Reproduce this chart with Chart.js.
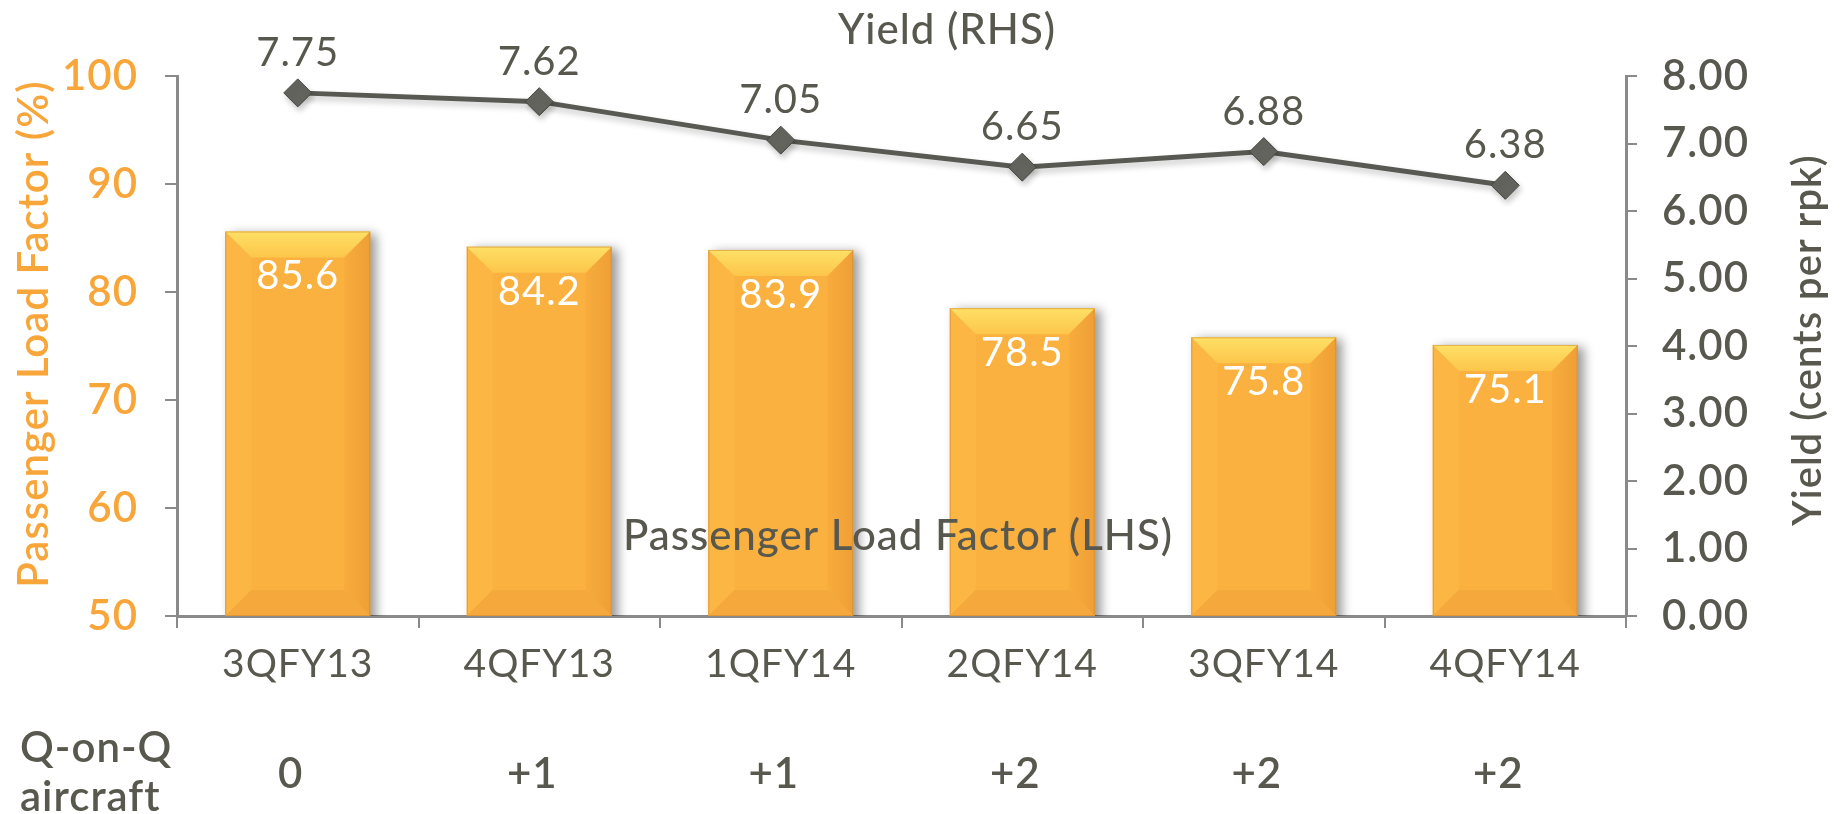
<!DOCTYPE html>
<html>
<head>
<meta charset="utf-8">
<script src="https://cdn.jsdelivr.net/npm/chart.js@4.4.1/dist/chart.umd.min.js"></script>
<style>
  html, body { margin: 0; padding: 0; background: #ffffff; }
  #wrap { width: 1841px; height: 814px; position: relative; }
</style>
</head>
<body>
<div id="wrap"><canvas id="c" width="1841" height="814"></canvas></div>
<script>
// ---------- DATA ----------
const categories = ['3QFY13', '4QFY13', '1QFY14', '2QFY14', '3QFY14', '4QFY14'];
const loadFactor = [85.6, 84.2, 83.9, 78.5, 75.8, 75.1];          // Passenger Load Factor (%) - LHS
const yieldCents = [7.75, 7.62, 7.05, 6.65, 6.88, 6.38];          // Yield (cents per rpk) - RHS
const aircraftChange = ['0', '+1', '+1', '+2', '+2', '+2'];       // Q-on-Q aircraft
const leftTickRange = [50, 100, 10];   // min, max, step
const rightTickRange = [0, 8, 1];      // min, max, step

// ---------- STYLE ----------
const ORANGE_TEXT = '#F8A53A';
const GRAY_TEXT = '#58584F';
const AXIS_GRAY = '#8A8A8A';
const FONT = 'Lato, "Open Sans", sans-serif';
const FS = 42;

Chart.defaults.font.family = FONT;

function bevelRect(ctx, l, t, r, b, bv) {
  const w = r - l, h = b - t;
  bv = Math.min(bv, w / 2, h / 2);
  // left facet
  ctx.fillStyle = '#FCB643';
  ctx.beginPath();
  ctx.moveTo(l, t); ctx.lineTo(l + bv, t + bv); ctx.lineTo(l + bv, b - bv); ctx.lineTo(l, b); ctx.closePath();
  ctx.fill();
  // right facet
  let g = ctx.createLinearGradient(r - bv, 0, r, 0);
  g.addColorStop(0, '#F8AC3C');
  g.addColorStop(1, '#EE9F36');
  ctx.fillStyle = g;
  ctx.beginPath();
  ctx.moveTo(r, t); ctx.lineTo(r, b); ctx.lineTo(r - bv, b - bv); ctx.lineTo(r - bv, t + bv); ctx.closePath();
  ctx.fill();
  // bottom facet
  ctx.fillStyle = '#F5A83B';
  ctx.beginPath();
  ctx.moveTo(l, b); ctx.lineTo(r, b); ctx.lineTo(r - bv, b - bv); ctx.lineTo(l + bv, b - bv); ctx.closePath();
  ctx.fill();
  // top facet
  g = ctx.createLinearGradient(0, t, 0, t + bv);
  g.addColorStop(0, '#FEE066');
  g.addColorStop(1, '#FCC64A');
  ctx.fillStyle = g;
  ctx.beginPath();
  ctx.moveTo(l, t); ctx.lineTo(r, t); ctx.lineTo(r - bv, t + bv); ctx.lineTo(l + bv, t + bv); ctx.closePath();
  ctx.fill();
  // outline
  ctx.strokeStyle = 'rgba(205,135,45,0.55)';
  ctx.lineWidth = 1;
  ctx.strokeRect(l + 0.5, t + 0.5, w - 1, h - 1);
}

const effectsPlugin = {
  id: 'effects',
  beforeDraw(chart) {
    chart.ctx.letterSpacing = '1px';
  },
  beforeDatasetDraw(chart, args) {
    const ctx = chart.ctx;
    const type = chart.data.datasets[args.index].type;
    ctx.save();
    if (type === 'bar') {
      ctx.shadowColor = 'rgba(0,0,0,0.40)';
      ctx.shadowBlur = 10;
      ctx.shadowOffsetX = 6;
      ctx.shadowOffsetY = 2;
    } else {
      ctx.shadowColor = 'rgba(0,0,0,0.22)';
      ctx.shadowBlur = 6;
      ctx.shadowOffsetX = 2;
      ctx.shadowOffsetY = 4;
    }
  },
  afterDatasetDraw(chart, args) {
    const ctx = chart.ctx;
    ctx.restore();
    const ds = chart.data.datasets[args.index];
    if (ds.type === 'bar') {
      const area = chart.chartArea;
      ctx.save();
      args.meta.data.forEach(el => {
        const p = el.getProps(['x', 'y', 'base', 'width'], true);
        const bottom = Math.min(p.base, area.bottom);
        bevelRect(ctx, p.x - p.width / 2, p.y, p.x + p.width / 2, bottom, 26);
      });
      ctx.restore();
    }
  },
  afterDatasetsDraw(chart) {
    const ctx = chart.ctx;
    ctx.save();
    ctx.textAlign = 'center';
    ctx.textBaseline = 'middle';
    // bar values
    const barMeta = chart.getDatasetMeta(1);
    ctx.font = '400 40px ' + FONT;
    ctx.fillStyle = '#FFFFFF';
    barMeta.data.forEach((el, i) => {
      ctx.fillText(loadFactor[i].toFixed(1), el.x, el.y + 45);
    });
    // line values
    const lineMeta = chart.getDatasetMeta(0);
    ctx.fillStyle = GRAY_TEXT;
    lineMeta.data.forEach((el, i) => {
      ctx.fillText(yieldCents[i].toFixed(2), el.x, el.y - 40);
    });
    ctx.restore();
  },
  afterDraw(chart) {
    const ctx = chart.ctx;
    const xs = chart.scales.x;
    ctx.save();
    ctx.textBaseline = 'middle';
    // series titles
    ctx.textAlign = 'center';
    ctx.fillStyle = GRAY_TEXT;
    ctx.font = '500 ' + FS + 'px ' + FONT;
    ctx.fillText('Yield (RHS)', 947, 30);
    ctx.fillText('Passenger Load Factor (LHS)', 898, 536);
    // axis titles
    ctx.save();
    ctx.font = '600 ' + FS + 'px ' + FONT;
    ctx.translate(34, 334);
    ctx.rotate(-Math.PI / 2);
    ctx.fillStyle = ORANGE_TEXT;
    ctx.fillText('Passenger Load Factor (%)', 0, 0);
    ctx.restore();
    ctx.save();
    ctx.font = '600 40px ' + FONT;
    ctx.translate(1808, 340);
    ctx.rotate(-Math.PI / 2);
    ctx.fillStyle = GRAY_TEXT;
    ctx.fillText('Yield (cents per rpk)', 0, 0);
    ctx.restore();
    // Q-on-Q aircraft row
    ctx.fillStyle = GRAY_TEXT;
    ctx.font = '600 ' + FS + 'px ' + FONT;
    ctx.textAlign = 'left';
    ctx.fillText('Q-on-Q', 20, 748);
    ctx.fillText('aircraft', 20, 797);
    ctx.textAlign = 'center';
    aircraftChange.forEach((v, i) => {
      ctx.fillText(v, xs.getPixelForValue(i) - 7, 774);
    });
    ctx.restore();
  }
};

function build() {
  const ctx = document.getElementById('c').getContext('2d');
  new Chart(ctx, {
    data: {
      labels: categories,
      datasets: [
        {
          type: 'line',
          label: 'Yield (RHS)',
          data: yieldCents,
          yAxisID: 'y2',
          order: 0,
          borderColor: '#595953',
          borderWidth: 5,
          pointStyle: 'rectRot',
          pointRadius: 14,
          pointHoverRadius: 14,
          pointBackgroundColor: '#64645E',
          pointBorderColor: '#45453F',
          pointBorderWidth: 1,
          tension: 0,
          fill: false
        },
        {
          type: 'bar',
          label: 'Passenger Load Factor (LHS)',
          data: loadFactor,
          yAxisID: 'y',
          order: 1,
          backgroundColor: '#FBB13F',
          borderWidth: 0,
          barPercentage: 0.6,
          categoryPercentage: 1.0
        }
      ]
    },
    options: {
      responsive: false,
      animation: false,
      events: [],
      layout: { padding: { top: 76, left: 0, right: 0, bottom: 0 } },
      plugins: { legend: { display: false }, tooltip: { enabled: false }, title: { display: false } },
      scales: {
        x: {
          offset: true,
          grid: { display: true, offset: true, drawOnChartArea: false, drawTicks: true, tickLength: 12, color: AXIS_GRAY, lineWidth: 2 },
          border: { display: true, color: AXIS_GRAY, width: 3 },
          ticks: { color: GRAY_TEXT, font: { size: 39, weight: '400' }, padding: 13, maxRotation: 0, autoSkip: false },
          afterFit(s) { s.height = 198; }
        },
        y: {
          position: 'left',
          min: leftTickRange[0], max: leftTickRange[1],
          grid: { display: true, drawOnChartArea: false, drawTicks: true, tickLength: 12, color: AXIS_GRAY, lineWidth: 2 },
          border: { display: true, color: AXIS_GRAY, width: 3 },
          ticks: { stepSize: leftTickRange[2], color: ORANGE_TEXT, font: { size: FS, weight: '600' }, padding: 27 },
          afterFit(s) { s.width = 177; }
        },
        y2: {
          position: 'right',
          min: rightTickRange[0], max: rightTickRange[1],
          grid: { display: true, drawOnChartArea: false, drawTicks: true, tickLength: 11, color: AXIS_GRAY, lineWidth: 2 },
          border: { display: true, color: AXIS_GRAY, width: 3 },
          ticks: { stepSize: rightTickRange[2], color: GRAY_TEXT, font: { size: FS, weight: '600' }, padding: 25,
                   callback: v => Number(v).toFixed(2) },
          afterFit(s) { s.width = 215; }
        }
      }
    },
    plugins: [effectsPlugin]
  });
}

const fontLoads = ['400 42px Lato', '500 42px Lato', '600 42px Lato'].map(f => document.fonts.load(f).catch(() => null));
Promise.all(fontLoads).then(build, build);
</script>
</body>
</html>
